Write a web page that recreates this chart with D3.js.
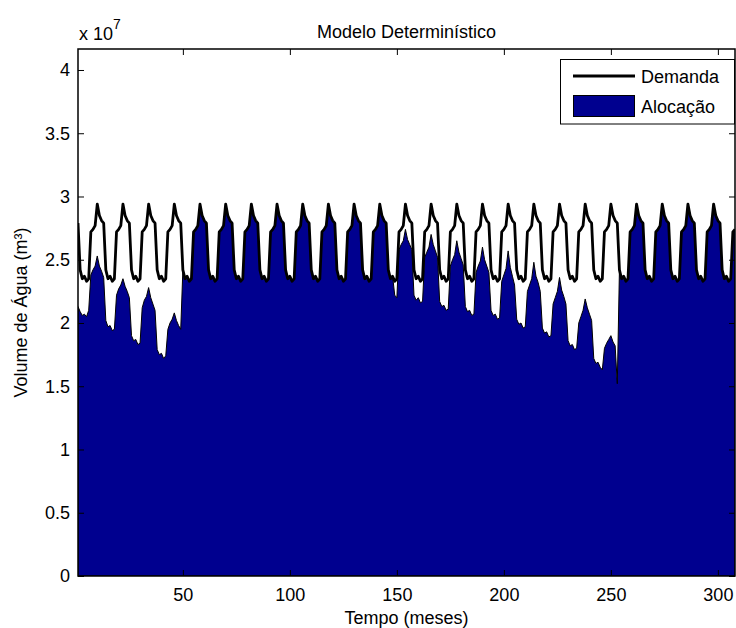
<!DOCTYPE html>
<html>
<head>
<meta charset="utf-8">
<script src="https://cdn.jsdelivr.net/npm/d3@7"></script>
<style>
  body { margin: 0; background: #fff; }
  svg text { font-family: "Liberation Sans", Arial, sans-serif; fill: #000; }
</style>
</head>
<body>
<div id="canvas"></div>
<script>
// valores em unidades de 10^7 m3
// demanda mensal (mes 1..12 do ciclo), repetida todo ano no modelo
let demandaMensal = [2.79, 2.42, 2.35, 2.37, 2.33, 2.35, 2.72, 2.74, 2.77, 2.94, 2.85, 2.81];
let numMeses = 308;

// alocacao nos periodos de deficit (fora deles alocacao = demanda)
let inicioSeca1 = 1;
let alocacaoSeca1 = [
  2.13, 2.09, 2.06, 2.07, 2.05, 2.10, 2.38, 2.42, 2.45, 2.53, 2.45, 2.41,
  2.36, 2.02, 1.97, 1.98, 1.94, 1.95, 2.22, 2.27, 2.30, 2.35, 2.29, 2.25,
  2.20, 1.90, 1.86, 1.87, 1.83, 1.84, 2.12, 2.18, 2.21, 2.28, 2.20, 2.15,
  2.10, 1.79, 1.75, 1.76, 1.72, 1.74, 1.95, 2.00, 2.03, 2.08, 2.02, 1.98,
  1.95
];
let inicioSeca2 = 149;
let alocacaoSeca2 = [
  2.22, 2.20, 2.58, 2.62, 2.65, 2.74, 2.66, 2.62,
  2.58, 2.22, 2.18, 2.20, 2.16, 2.17, 2.52, 2.56, 2.60, 2.70, 2.62, 2.57,
  2.52, 2.17, 2.13, 2.14, 2.10, 2.11, 2.45, 2.50, 2.54, 2.65, 2.56, 2.51,
  2.46, 2.13, 2.09, 2.10, 2.06, 2.07, 2.40, 2.45, 2.49, 2.60, 2.50, 2.45,
  2.40, 2.10, 2.06, 2.07, 2.03, 2.04, 2.33, 2.38, 2.43, 2.57, 2.44, 2.37,
  2.30, 2.03, 1.99, 2.00, 1.96, 1.97, 2.25, 2.30, 2.35, 2.48, 2.37, 2.32,
  2.25, 1.96, 1.92, 1.93, 1.89, 1.90, 2.15, 2.20, 2.25, 2.36, 2.26, 2.21,
  2.15, 1.86, 1.82, 1.83, 1.79, 1.80, 2.00, 2.05, 2.10, 2.19, 2.12, 2.07,
  2.02, 1.72, 1.68, 1.69, 1.65, 1.63, 1.80, 1.84, 1.87, 1.90, 1.85, 1.82,
  1.52
];

let xTicks = [50, 100, 150, 200, 250, 300];
let yTicks = [0, 0.5, 1, 1.5, 2, 2.5, 3, 3.5, 4];

let dados = [];
for (let t = 1; t <= numMeses; t++) {
  let dem = demandaMensal[(t - 1) % 12];
  let aloc = dem;
  if (t >= inicioSeca1 && t < inicioSeca1 + alocacaoSeca1.length) aloc = alocacaoSeca1[t - inicioSeca1];
  if (t >= inicioSeca2 && t < inicioSeca2 + alocacaoSeca2.length) aloc = alocacaoSeca2[t - inicioSeca2];
  dados.push({ t: t, demanda: dem, alocacao: aloc });
}

let W = 736, H = 628;
let mLeft = 78, mRight = 735, mTop = 49, mBottom = 576;

let x = d3.scaleLinear().domain([1, numMeses]).range([mLeft, mRight]);
let y = d3.scaleLinear().domain([0, 4.166]).range([mBottom, mTop]);

let svg = d3.select('#canvas').append('svg')
  .attr('width', W)
  .attr('height', H)
  .style('background', '#fff');

svg.append('clipPath').attr('id', 'clip')
  .append('rect')
  .attr('x', mLeft).attr('y', mTop)
  .attr('width', mRight - mLeft).attr('height', mBottom - mTop);

let plot = svg.append('g').attr('clip-path', 'url(#clip)');

plot.append('path')
  .datum(dados)
  .attr('d', d3.area()
    .x(function(d) { return x(d.t); })
    .y0(y(0))
    .y1(function(d) { return y(d.alocacao); }))
  .attr('fill', '#00008f')
  .attr('stroke', '#000')
  .attr('stroke-width', 1);

plot.append('path')
  .datum(dados)
  .attr('d', d3.line()
    .x(function(d) { return x(d.t); })
    .y(function(d) { return y(d.demanda); }))
  .attr('fill', 'none')
  .attr('stroke', '#000')
  .attr('stroke-width', 2.8)
  .attr('stroke-linejoin', 'round');

// eixos estilo matlab: ticks para dentro, caixa fechada
let tickLen = 6;
svg.append('g')
  .attr('transform', 'translate(0,' + mBottom + ')')
  .call(d3.axisBottom(x).tickValues(xTicks).tickSize(-tickLen).tickPadding(12).tickFormat(d3.format('d')))
  .call(function(g) { g.select('.domain').remove(); });
svg.append('g')
  .attr('transform', 'translate(0,' + mTop + ')')
  .call(d3.axisTop(x).tickValues(xTicks).tickSize(-tickLen).tickFormat(''))
  .call(function(g) { g.select('.domain').remove(); });
svg.append('g')
  .attr('transform', 'translate(' + mLeft + ',0)')
  .call(d3.axisLeft(y).tickValues(yTicks).tickSize(-tickLen).tickPadding(8).tickFormat(d3.format('')))
  .call(function(g) { g.select('.domain').remove(); });
svg.append('g')
  .attr('transform', 'translate(' + mRight + ',0)')
  .call(d3.axisRight(y).tickValues(yTicks).tickSize(-tickLen).tickFormat(''))
  .call(function(g) { g.select('.domain').remove(); });

svg.selectAll('.tick line').attr('stroke', '#000').attr('stroke-width', 1);
svg.selectAll('.tick text')
  .style('font-family', '"Liberation Sans", Arial, sans-serif')
  .style('font-size', '18px')
  .attr('fill', '#000');

svg.append('rect')
  .attr('x', mLeft).attr('y', mTop)
  .attr('width', mRight - mLeft).attr('height', mBottom - mTop)
  .attr('fill', 'none')
  .attr('stroke', '#000')
  .attr('stroke-width', 1.5);

// textos
svg.append('text')
  .attr('x', (mLeft + mRight) / 2).attr('y', 38)
  .attr('text-anchor', 'middle')
  .style('font-size', '18px')
  .text('Modelo Determinístico');

svg.append('text')
  .attr('x', (mLeft + mRight) / 2).attr('y', 624)
  .attr('text-anchor', 'middle')
  .style('font-size', '18px')
  .text('Tempo (meses)');

svg.append('text')
  .attr('transform', 'translate(27,' + ((mTop + mBottom) / 2) + ') rotate(-90)')
  .attr('text-anchor', 'middle')
  .style('font-size', '18px')
  .text('Volume de Água (m³)');

let expo = svg.append('text')
  .attr('x', 79).attr('y', 40)
  .style('font-size', '18px');
expo.append('tspan').text('x 10');
expo.append('tspan').attr('dy', -11).style('font-size', '14px').text('7');

// legenda
let leg = svg.append('g');
leg.append('rect')
  .attr('x', 560.5).attr('y', 59.5)
  .attr('width', 174).attr('height', 64.5)
  .attr('fill', '#fff')
  .attr('stroke', '#000')
  .attr('stroke-width', 1);
leg.append('line')
  .attr('x1', 573).attr('x2', 635)
  .attr('y1', 76).attr('y2', 76)
  .attr('stroke', '#000')
  .attr('stroke-width', 2.8);
leg.append('rect')
  .attr('x', 573.5).attr('y', 95.5)
  .attr('width', 61).attr('height', 21)
  .attr('fill', '#00008f')
  .attr('stroke', '#000')
  .attr('stroke-width', 1);
leg.append('text')
  .attr('x', 641).attr('y', 82.5)
  .style('font-size', '18px')
  .text('Demanda');
leg.append('text')
  .attr('x', 641).attr('y', 113)
  .style('font-size', '18px')
  .text('Alocação');
</script>
</body>
</html>
